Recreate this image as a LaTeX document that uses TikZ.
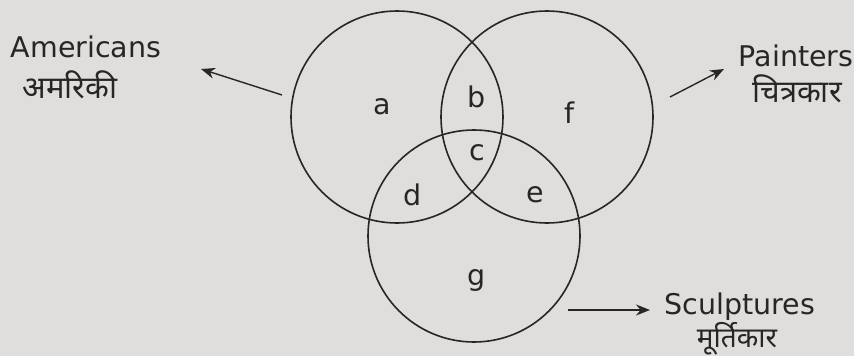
\documentclass[tikz,border=0pt]{standalone}
\usepackage{fontspec}
\setmainfont{DejaVu Sans}
\newfontfamily\hindi[Script=Devanagari]{Noto Sans}
\usetikzlibrary{arrows.meta}
\definecolor{bgc}{RGB}{224,221,221}
\definecolor{ink}{RGB}{40,37,37}
\tikzset{
  setc/.style={circle, draw=ink, line width=1.6pt, minimum size=212pt, inner sep=0pt},
  lbl/.style={text=ink, font=\fontsize{28.5}{31}\selectfont, inner sep=0pt},
  hlbl/.style={text=ink, font=\hindi\fontsize{31}{34}\selectfont, inner sep=0pt, anchor=base},
  tlbl/.style={lbl, anchor=base},
  arr/.style={draw=ink, line width=1.4pt, -{Stealth[length=14pt,width=11pt]}}
}
\begin{document}
\begin{tikzpicture}[x=1pt,y=-1pt]
\fill[bgc] (0,0) rectangle (854,356);
\useasboundingbox (0,0) rectangle (854,356);
% circles
\node[setc] (A) at (397,117) {};
\node[setc] (P) at (547,117) {};
\node[setc] (S) at (474,236) {};
% region labels
\node[lbl] (la) at (382,107) {a};
\node[lbl] (lb) at (477,97) {b};
\node[lbl] (lf) at (570,113) {f};
\node[lbl] (lc) at (477,153) {c};
\node[lbl] (ld) at (413,195) {d};
\node[lbl] (le) at (535,195) {e};
\node[lbl] (lg) at (477,280) {g};
% set names
\node[tlbl] (amer) at (86,57) {Americans};
\node[hlbl] (amerh) at (70,98) {अमरिकी};
\node[tlbl] (pain) at (796,66) {Painters};
\node[hlbl] (painh) at (797,102) {चित्रकार};
\node[tlbl] (sculp) at (740,314) {Sculptures};
\node[hlbl, font=\hindi\fontsize{28}{30}\selectfont] (sculph) at (737,347) {मूर्तिकार};
% arrows
\coordinate (at) at (282,95);
\coordinate (ah) at (201,69);
\coordinate (pt) at (670,97);
\coordinate (ph) at (724,69);
\coordinate (st) at (568,310);
\coordinate (sh) at (650,310);
\draw[arr] (at) -- (ah);
\draw[arr] (pt) -- (ph);
\draw[arr] (st) -- (sh);
\end{tikzpicture}
\end{document}
